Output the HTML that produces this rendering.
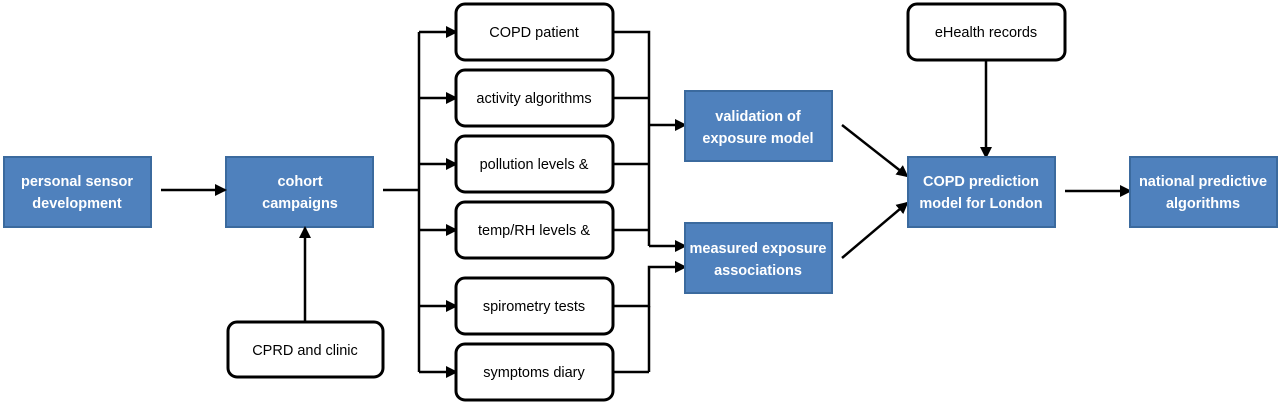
<!DOCTYPE html>
<html><head><meta charset="utf-8"><style>
html,body{margin:0;padding:0;background:#fff;width:1280px;height:404px;overflow:hidden}
svg{display:block}
.b{fill:#4f81bd;stroke:#3b6a9e;stroke-width:2}
.w{fill:#fff;stroke:#000;stroke-width:3}
.tb{font-family:"Liberation Sans",sans-serif;font-weight:bold;font-size:14.5px;fill:#fff;text-anchor:middle}
.tw{font-family:"Liberation Sans",sans-serif;font-size:14.5px;fill:#000;text-anchor:middle}
.l{stroke:#000;stroke-width:2.5;fill:none}
</style></head><body>
<svg width="1280" height="404" viewBox="0 0 1280 404">
<defs><marker id="a" markerWidth="12" markerHeight="12" refX="10" refY="6" orient="auto" markerUnits="userSpaceOnUse"><path d="M0,0 L12,6 L0,12 z" fill="#000"/></marker></defs>

<rect class="b" x="4" y="157" width="147" height="70"/>
<text class="tb" x="77" y="186">personal  sensor</text><text class="tb" x="77" y="208">development</text>
<rect class="b" x="226" y="157" width="147" height="70"/>
<text class="tb" x="300" y="186">cohort</text><text class="tb" x="300" y="208">campaigns</text>
<rect class="w" x="228" y="322" width="155" height="55" rx="9"/>
<text class="tw" x="305" y="355">CPRD and clinic</text>

<line class="l" x1="161" y1="190" x2="225" y2="190" marker-end="url(#a)"/>
<line class="l" x1="305" y1="322" x2="305" y2="228" marker-end="url(#a)"/>

<line class="l" x1="383" y1="190" x2="419" y2="190"/>
<line class="l" x1="419" y1="32" x2="419" y2="372"/>
<g>
<line class="l" x1="419" y1="32" x2="456" y2="32" marker-end="url(#a)"/>
<line class="l" x1="419" y1="98" x2="456" y2="98" marker-end="url(#a)"/>
<line class="l" x1="419" y1="164" x2="456" y2="164" marker-end="url(#a)"/>
<line class="l" x1="419" y1="230" x2="456" y2="230" marker-end="url(#a)"/>
<line class="l" x1="419" y1="306" x2="456" y2="306" marker-end="url(#a)"/>
<line class="l" x1="419" y1="372" x2="456" y2="372" marker-end="url(#a)"/>
</g>
<rect class="w" x="456" y="4" width="157" height="56" rx="9"/><text class="tw" x="534" y="37">COPD patient</text>
<rect class="w" x="456" y="70" width="157" height="56" rx="9"/><text class="tw" x="534" y="103">activity algorithms</text>
<rect class="w" x="456" y="136" width="157" height="56" rx="9"/><text class="tw" x="534" y="169">pollution levels &amp;</text>
<rect class="w" x="456" y="202" width="157" height="56" rx="9"/><text class="tw" x="534" y="235">temp/RH levels &amp;</text>
<rect class="w" x="456" y="278" width="157" height="56" rx="9"/><text class="tw" x="534" y="311">spirometry tests</text>
<rect class="w" x="456" y="344" width="157" height="56" rx="9"/><text class="tw" x="534" y="377">symptoms diary</text>

<polyline class="l" points="613,32 649,32 649,246"/>
<line class="l" x1="613" y1="98" x2="649" y2="98"/>
<line class="l" x1="613" y1="164" x2="649" y2="164"/>
<line class="l" x1="613" y1="230" x2="649" y2="230"/>
<line class="l" x1="649" y1="125" x2="685" y2="125" marker-end="url(#a)"/>
<line class="l" x1="649" y1="246" x2="685" y2="246" marker-end="url(#a)"/>
<polyline class="l" points="613,306 649,306 649,267 685,267" marker-end="url(#a)"/>
<line class="l" x1="613" y1="372" x2="649" y2="372"/>
<line class="l" x1="649" y1="306" x2="649" y2="372"/>

<rect class="b" x="685" y="91" width="147" height="70"/>
<text class="tb" x="758" y="121">validation of</text><text class="tb" x="758" y="143">exposure model</text>
<rect class="b" x="685" y="223" width="147" height="70"/>
<text class="tb" x="758" y="253">measured exposure</text><text class="tb" x="758" y="275">associations</text>

<line class="l" x1="842" y1="125" x2="907" y2="176" marker-end="url(#a)"/>
<line class="l" x1="842" y1="258" x2="907" y2="203" marker-end="url(#a)"/>

<rect class="w" x="908" y="4" width="157" height="56" rx="9"/><text class="tw" x="986" y="37">eHealth records</text>
<line class="l" x1="986" y1="60" x2="986" y2="157" marker-end="url(#a)"/>

<rect class="b" x="908" y="157" width="147" height="70"/>
<text class="tb" x="981" y="186">COPD prediction</text><text class="tb" x="981" y="208">model for London</text>
<line class="l" x1="1065" y1="191" x2="1130" y2="191" marker-end="url(#a)"/>
<rect class="b" x="1130" y="157" width="147" height="70"/>
<text class="tb" x="1203" y="186">national predictive</text><text class="tb" x="1203" y="208">algorithms</text>
</svg>
</body></html>
